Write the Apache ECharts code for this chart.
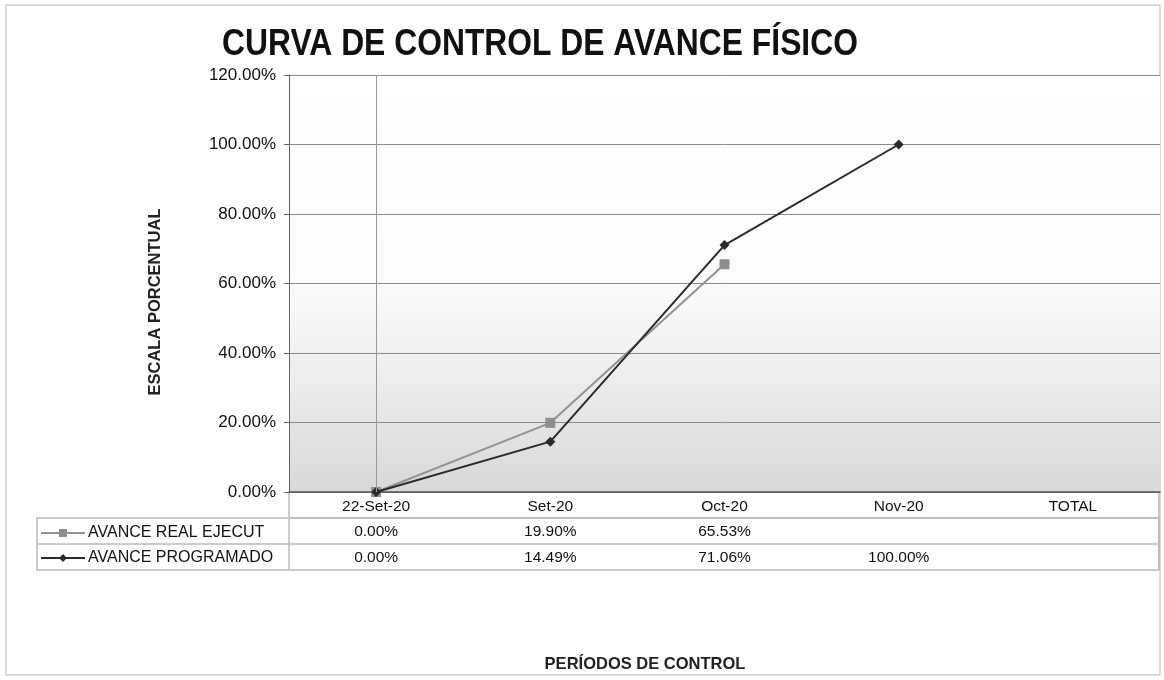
<!DOCTYPE html>
<html>
<head>
<meta charset="utf-8">
<script src="https://cdn.jsdelivr.net/npm/echarts@6/dist/echarts.min.js"></script>
<style>html,body{margin:0;padding:0;background:#fff}#c{width:1164px;height:680px}</style>
</head>
<body>
<div id="c"></div>
<script>
var categories = ['22-Set-20', 'Set-20', 'Oct-20', 'Nov-20', 'TOTAL'];
var avanceReal = [0.00, 19.90, 65.53, null, null];
var avanceProgramado = [0.00, 14.49, 71.06, 100.00, null];
var yTicks = [0, 20, 40, 60, 80, 100, 120];

function pct(v) { return (v === null || v === undefined) ? '' : v.toFixed(2) + '%'; }

var chart = echarts.init(document.getElementById('c'), null, {renderer: 'canvas'});
var F = 'Liberation Sans, Arial, sans-serif';
var gridL = 289, gridR = 4, gridT = 75, gridB = 188;

var rowAxis = function (arr, offset) {
  return {
    type: 'category', data: categories, position: 'bottom', offset: offset, gridIndex: 0,
    axisLine: {show: false}, axisTick: {show: false}, splitLine: {show: false},
    axisLabel: {fontFamily: F, fontSize: 15.5, color: '#111', margin: 6,
      formatter: function (v, i) { return pct(arr[i]); }}
  };
};

var option = {
  backgroundColor: '#fff',
  animation: false,
  legend: {
    orient: 'vertical', left: 35, top: 520, itemGap: 9, itemWidth: 44, itemHeight: 10,
    textStyle: {fontFamily: F, fontSize: 16, color: '#111', padding: [0, 0, 0, -2]},
    data: ['AVANCE REAL EJECUT', 'AVANCE PROGRAMADO']
  },
  grid: {left: gridL, right: gridR, top: gridT, bottom: gridB, show: true, borderWidth: 0,
    backgroundColor: {type: 'linear', x: 0, y: 0, x2: 0, y2: 1, colorStops: [
      {offset: 0, color: '#ffffff'}, {offset: 0.5, color: '#fbfbfb'}, {offset: 0.7, color: '#efefef'}, {offset: 1, color: '#d8d8d8'}]}},
  xAxis: [
    {type: 'category', data: categories, boundaryGap: true,
      axisLine: {lineStyle: {color: '#555', width: 1.5}}, axisTick: {show: false},
      axisLabel: {fontFamily: F, fontSize: 15.5, color: '#111', margin: 7},
      splitLine: {show: false}},
    rowAxis(avanceReal, 26),
    rowAxis(avanceProgramado, 52)
  ],
  yAxis: {
    type: 'value', min: 0, max: 120, interval: 20,
    axisLine: {show: true, lineStyle: {color: '#666', width: 1}},
    axisTick: {show: true, length: 5, lineStyle: {color: '#666'}},
    axisLabel: {fontFamily: F, fontSize: 17, color: '#111', margin: 13,
      formatter: function (v) { return v.toFixed(2) + '%'; }},
    splitLine: {lineStyle: {color: '#8a8a8a', width: 1}}
  },
  series: [
    {name: 'AVANCE REAL EJECUT', type: 'line', data: avanceReal, connectNulls: false,
      symbol: 'rect', symbolSize: 10, color: '#8e8e8e',
      lineStyle: {color: '#939393', width: 2}, itemStyle: {color: '#8e8e8e'}, z: 3,
      markLine: {silent: true, symbol: 'none', label: {show: false},
        lineStyle: {color: '#999', width: 1, type: 'solid'},
        data: [{xAxis: categories[0]}]}},
    {name: 'AVANCE PROGRAMADO', type: 'line', data: avanceProgramado,
      symbol: 'diamond', symbolSize: 10, color: '#2a2a2a',
      lineStyle: {color: '#2a2a2a', width: 2}, itemStyle: {color: '#2a2a2a'}, z: 4}
  ],
  graphic: [
    {type: 'rect', shape: {x: 6, y: 5, width: 1154, height: 670}, style: {fill: 'none', stroke: '#cfcfcf', lineWidth: 1.5}, z: -1},
    {type: 'line', shape: {x1: 289, y1: 518, x2: 1159, y2: 518}, style: {stroke: '#bbb', lineWidth: 1.5}},
    {type: 'rect', shape: {x: 37, y: 518, width: 1122, height: 52}, style: {fill: 'none', stroke: '#bbb', lineWidth: 1.5}},
    {type: 'line', shape: {x1: 37, y1: 544, x2: 1159, y2: 544}, style: {stroke: '#bbb', lineWidth: 1.5}},
    {type: 'line', shape: {x1: 289, y1: 492, x2: 289, y2: 570}, style: {stroke: '#bbb', lineWidth: 1.5}},
    {type: 'line', shape: {x1: 1159, y1: 492, x2: 1159, y2: 570}, style: {stroke: '#bbb', lineWidth: 1.5}},
    {type: 'text', x: 540, y: 45, scaleX: 0.86, originX: 0, originY: 0,
      style: {text: 'CURVA DE CONTROL DE AVANCE FÍSICO', fontFamily: F, fontSize: 37, fontWeight: 'bold', fill: '#111', align: 'center', verticalAlign: 'middle'}},
    {type: 'text', x: 155, y: 302, rotation: Math.PI / 2, originX: 0, originY: 0,
      style: {text: 'ESCALA PORCENTUAL', fontFamily: F, fontSize: 16.5, fontWeight: 'bold', fill: '#222', align: 'center', verticalAlign: 'middle'}},
    {type: 'text', x: 645, y: 664,
      style: {text: 'PERÍODOS DE CONTROL', fontFamily: F, fontSize: 16.5, fontWeight: 'bold', fill: '#222', align: 'center', verticalAlign: 'middle'}}
  ]
};
chart.setOption(option);
</script>
</body>
</html>
